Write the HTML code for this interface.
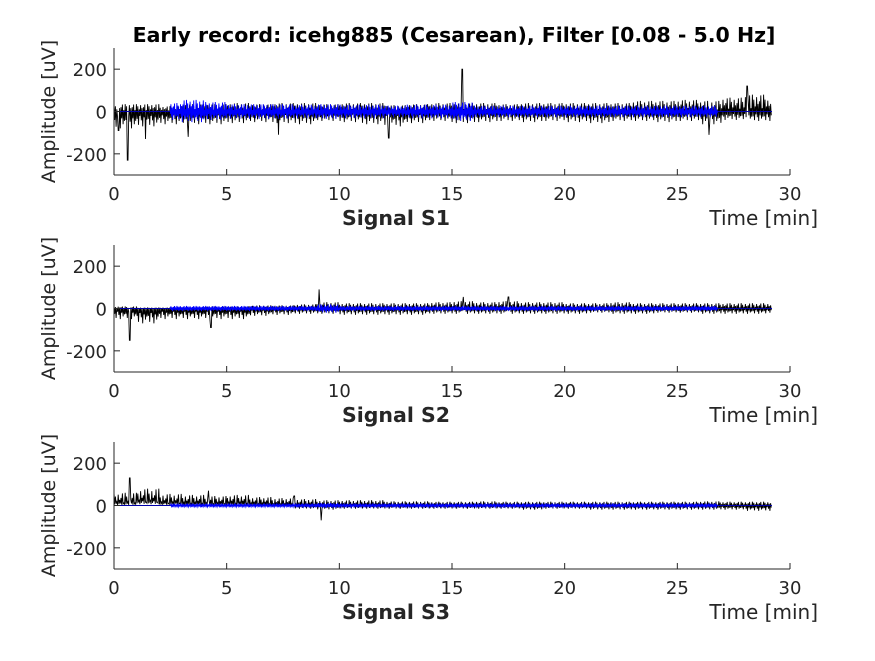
<!DOCTYPE html>
<html><head><meta charset="utf-8"><style>
body{margin:0;background:#fff;}
svg text{font-family:"DejaVu Sans","Liberation Sans",sans-serif;fill:#262626;}
</style></head><body>
<svg id="chart" width="875" height="656" xmlns="http://www.w3.org/2000/svg">
<text x="454" y="42" text-anchor="middle" font-size="20.5" font-weight="bold" style="fill:#000">Early record: icehg885 (Cesarean), Filter [0.08 - 5.0 Hz]</text>
</svg>
<script>
const xTicks=[0,5,10,15,20,25,30];
const yTicks=[-200,0,200];
const binTimes=[0,1,2,3,4,5,6,7,8,9,10,11,12,13,14,15,16,17,18,19,20,21,22,23,24,25,26,27,28,29];
const s1BlackMax=[35,35,25,35,35,40,35,40,40,35,40,40,30,35,40,40,40,35,40,40,40,40,40,50,50,55,50,65,80,60];
const s1BlackMin=[-80,-70,-60,-60,-60,-55,-50,-55,-60,-45,-50,-60,-70,-55,-45,-55,-50,-45,-50,-45,-50,-55,-45,-45,-50,-45,-60,-40,-45,-45];
const s1Spikes=[[0.2,-90],[0.6,-230],[1.4,-130],[3.3,-120],[7.3,-110],[12.2,-125],[15.45,200],[26.4,-110],[28.1,120]];
const s1BlueMax=[0,0,40,55,45,35,35,35,32,35,32,32,28,32,32,45,28,28,28,28,28,28,28,28,28,28,28,0,0,0];
const s1BlueMin=[0,0,-40,-50,-40,-35,-35,-35,-32,-35,-32,-32,-28,-32,-32,-45,-28,-28,-28,-28,-28,-28,-28,-28,-28,-28,-28,0,0,0];
const s2BlackMax=[10,5,5,5,10,10,15,15,20,30,25,25,25,25,30,35,30,35,30,30,25,25,30,25,25,25,25,25,25,25];
const s2BlackMin=[-50,-70,-50,-50,-50,-50,-35,-30,-25,-25,-30,-30,-30,-30,-25,-25,-25,-25,-25,-25,-25,-20,-25,-25,-20,-20,-25,-25,-25,-20];
const s2Spikes=[[0.7,-150],[4.3,-90],[9.1,90],[15.5,55],[17.5,55]];
const s2BlueMax=[0,0,12,12,12,12,12,12,12,20,12,12,12,12,12,12,12,12,12,12,12,12,12,12,12,12,12,0,0,0];
const s2BlueMin=[0,0,-12,-12,-12,-12,-12,-12,-12,-20,-12,-12,-12,-12,-12,-12,-12,-12,-12,-12,-12,-12,-12,-12,-12,-12,-12,0,0,0];
const s3BlackMax=[60,80,55,50,45,50,40,35,30,25,25,25,20,20,18,18,20,18,18,18,18,18,18,18,18,18,20,18,18,18];
const s3BlackMin=[10,20,10,5,5,5,0,-5,-15,-20,-15,-15,-15,-15,-15,-15,-15,-15,-20,-15,-15,-20,-20,-20,-20,-20,-20,-20,-25,-25];
const s3Spikes=[[0.7,130],[4.2,70],[8,45],[9.2,-70]];
const s3BlueMax=[0,0,8,8,8,8,8,8,8,12,8,8,8,8,8,8,8,8,8,8,8,8,8,8,8,8,8,0,0,0];
const s3BlueMin=[0,0,-8,-8,-8,-8,-8,-8,-8,-12,-8,-8,-8,-8,-8,-8,-8,-8,-8,-8,-8,-8,-8,-8,-8,-8,-8,0,0,0];
const panels=[
 {name:"S1",top:48,bk:[s1BlackMax,s1BlackMin],sp:s1Spikes,bl:[s1BlueMax,s1BlueMin]},
 {name:"S2",top:245,bk:[s2BlackMax,s2BlackMin],sp:s2Spikes,bl:[s2BlueMax,s2BlueMin]},
 {name:"S3",top:442,bk:[s3BlackMax,s3BlackMin],sp:s3Spikes,bl:[s3BlueMax,s3BlueMin]}];
const NS="http://www.w3.org/2000/svg";
const svg=document.getElementById('chart');
const L=114,R=790,H=127,tEnd=29.2,blueStart=2.5,blueEnd=26.8;
const pattern=[1,-0.5,0.7,-0.9,0.3,-0.3,0.85,-0.6,0.45,-1,0.6,-0.4,0.95,-0.75,0.2,-0.55];
function mk(t,a,p){const e=document.createElementNS(NS,t);for(const k in a)e.setAttribute(k,a[k]);(p||svg).appendChild(e);return e;}
panels.forEach((p,i)=>{
 const g=mk('g',{});
 
 
 const xs=v=>L+(v/30)*(R-L);
 const ys=v=>p.top+H/2-(v/300)*(H/2);
 const bot=p.top+H;
 function trace(mx,mn,spikes,t0,t1,color,name,off,step){
  const pts=[];let k=off;
  for(let x=xs(t0);x<=xs(t1);x+=step){
   const t=(x-L)/(R-L)*30;const j=Math.min(Math.floor(t),29);
   let f=pattern[k%pattern.length];k++;
   let v=f>0?f*mx[j]:-f*mn[j];
   spikes.forEach(s=>{if(Math.abs(xs(s[0])-x)<step*0.75)v=s[1];});
   pts.push(x.toFixed(1)+','+ys(v).toFixed(1));
  }
  const e=mk('polyline',{points:pts.join(' '),fill:'none',stroke:color,'stroke-width':0.9},g);
  
  
 }
 trace(p.bk[0],p.bk[1],p.sp,0,tEnd,'#000','signal-'+p.name.toLowerCase()+'-raw',0,0.7);
 const z=mk('line',{x1:xs(0),x2:xs(tEnd),y1:ys(0),y2:ys(0),stroke:'#0000aa','stroke-width':1},g);
 
 
 trace(p.bl[0],p.bl[1],[],blueStart,blueEnd,'#0000ff','signal-'+p.name.toLowerCase()+'-filtered',5,0.6);
 mk('line',{x1:L,x2:R,y1:bot,y2:bot,stroke:'#262626','stroke-width':1},g);
 mk('line',{x1:L,x2:L,y1:p.top,y2:bot,stroke:'#262626','stroke-width':1},g);
 xTicks.forEach(t=>{mk('line',{x1:xs(t),x2:xs(t),y1:bot,y2:bot-6,stroke:'#262626'},g);
  const tx=mk('text',{x:xs(t),y:bot+25,'text-anchor':'middle','font-size':18},g);tx.textContent=t;
  
  });
 yTicks.forEach(t=>{mk('line',{x1:L,x2:L+6,y1:ys(t),y2:ys(t),stroke:'#262626'},g);
  const tx=mk('text',{x:107,y:ys(t)+7,'text-anchor':'end','font-size':18},g);tx.textContent=t;
  
  });
 const st=mk('text',{x:396,y:bot+50,'text-anchor':'middle','font-size':20.5,'font-weight':'bold'},g);st.textContent='Signal '+p.name;
 
 
 const xl=mk('text',{x:818,y:bot+50,'text-anchor':'end','font-size':20},g);xl.textContent='Time [min]';
 
 
 const cy=p.top+H/2;
 const yl=mk('text',{x:55,y:cy,'text-anchor':'middle','font-size':19,transform:'rotate(-90 55 '+cy+')'},g);yl.textContent='Amplitude [uV]';
 
 
});
</script>
</body></html>
